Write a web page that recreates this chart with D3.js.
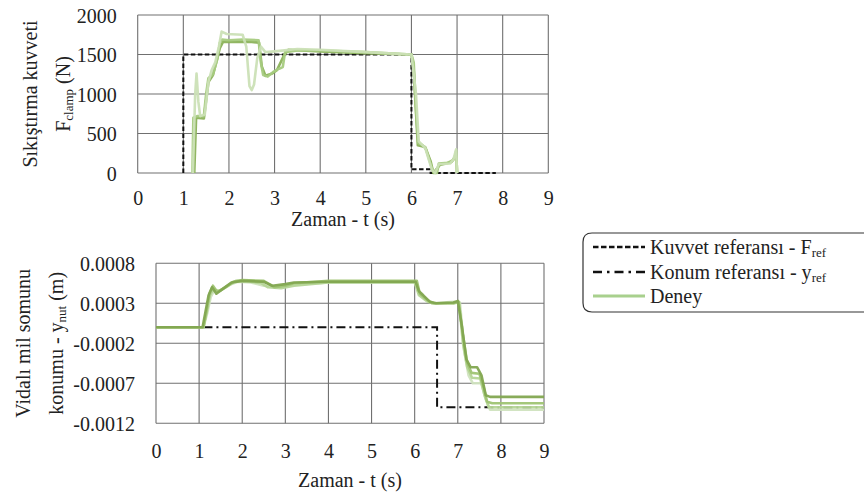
<!DOCTYPE html>
<html><head><meta charset="utf-8">
<script src="https://cdn.jsdelivr.net/npm/d3@7/dist/d3.min.js"></script>
<style>body{margin:0;background:#fff}svg{display:block}</style>
</head><body><svg id="c" width="864" height="498"></svg>
<script>
// ---------- data ----------
const timeTicks = [0,1,2,3,4,5,6,7,8,9];
const forceTicks = [0,500,1000,1500,2000];
const posTicks = [0.0008,0.0003,-0.0002,-0.0007,-0.0012];
const posTickLabels = ["0.0008","0.0003","-0.0002","-0.0007","-0.0012"];

const forceRef = [[1,0],[1,1500],[6,1500],[6,47],[6.42,47],[6.42,0],[7.85,0]];
const forceRunA = [[1.2,0],[1.22,700],[1.3,720],[1.45,720],[1.5,1000],[1.55,1200],[1.65,1250],[1.7,1350],[1.75,1450],[1.8,1650],[1.85,1690],[2.0,1680],[2.3,1690],[2.65,1680],[2.7,1400],[2.75,1240],[2.85,1220],[2.97,1280],[3.1,1320],[3.18,1340],[3.23,1530],[3.5,1550],[4.0,1550],[5.0,1530],[6.0,1500],[6.05,1400],[6.1,800],[6.15,380],[6.25,350],[6.32,300],[6.45,60],[6.5,0],[6.56,0],[6.6,120],[6.8,130],[6.9,160],[6.95,200],[6.98,280],[7.0,0]];
const forceRunB = [[1.21,0],[1.26,1000],[1.29,1260],[1.33,900],[1.37,720],[1.47,740],[1.55,1150],[1.62,1300],[1.7,1400],[1.78,1600],[1.84,1790],[1.95,1760],[2.3,1750],[2.38,1600],[2.45,1100],[2.5,1050],[2.55,1120],[2.62,1450],[2.7,1600],[2.8,1530],[3.0,1540],[3.5,1570],[4.0,1560],[5.0,1530],[6.0,1500],[6.1,1000],[6.16,400],[6.3,320],[6.45,40],[6.52,0],[6.6,110],[6.85,120],[6.92,170],[6.98,300],[7.0,0]];
const forceRunC = [[1.24,0],[1.28,700],[1.45,690],[1.55,1150],[1.65,1240],[1.8,1580],[1.87,1660],[2.5,1660],[2.66,1650],[2.72,1350],[2.8,1230],[2.95,1260],[3.05,1300],[3.2,1480],[3.3,1560],[4.0,1540],[5.0,1515],[6.0,1500],[6.05,1300],[6.14,350],[6.3,330],[6.42,150],[6.48,0],[6.62,100],[6.88,140],[6.96,200],[6.99,150],[7.0,0]];

const posRef = [[1.1,0],[6.52,0],[6.52,-0.001],[9,-0.001]];
const posRun1 = [[0,0],[1.08,0],[1.15,0.0002],[1.22,0.0004],[1.3,0.0005],[1.4,0.00042],[1.55,0.00048],[1.75,0.00056],[2.0,0.00058],[2.5,0.00057],[2.7,0.00052],[3.0,0.00054],[3.2,0.00056],[4,0.00057],[6.02,0.00057],[6.1,0.00045],[6.2,0.0004],[6.35,0.00032],[6.5,0.0003],[6.9,0.00031],[7.0,0.00033],[7.1,0.0],[7.2,-0.0004],[7.3,-0.0005],[7.45,-0.0005],[7.55,-0.0006],[7.65,-0.00085],[7.75,-0.00087],[9,-0.00087]];
const posRun2 = [[0,0],[1.1,0],[1.17,0.0002],[1.24,0.00042],[1.32,0.00052],[1.42,0.00044],[1.6,0.0005],[1.8,0.00057],[2.0,0.00059],[2.5,0.00058],[2.75,0.0005],[3.0,0.00052],[3.2,0.00055],[4,0.00058],[6.05,0.00058],[6.12,0.00042],[6.25,0.00036],[6.4,0.0003],[6.9,0.0003],[7.02,0.00032],[7.12,-0.0001],[7.22,-0.00045],[7.32,-0.00057],[7.5,-0.00058],[7.6,-0.00075],[7.68,-0.00093],[7.8,-0.00095],[9,-0.00095]];
const posRun3 = [[0,0],[1.1,0],[1.18,0.0002],[1.25,0.0004],[1.33,0.00048],[1.45,0.00045],[1.62,0.0005],[1.85,0.00058],[2.1,0.00058],[2.45,0.00055],[2.6,0.0005],[2.9,0.00049],[3.2,0.00052],[4,0.00056],[6.0,0.00056],[6.1,0.0004],[6.3,0.00032],[6.45,0.0003],[6.9,0.0003],[7.03,0.00031],[7.12,-0.0002],[7.22,-0.0005],[7.33,-0.00063],[7.52,-0.00064],[7.62,-0.00085],[7.72,-0.001],[7.85,-0.001],[9,-0.001]];
const posRun4 = [[0,0],[1.1,0],[1.19,0.00018],[1.27,0.00038],[1.35,0.00046],[1.5,0.00046],[1.7,0.00053],[1.9,0.00057],[2.2,0.00056],[2.5,0.00052],[2.8,0.00051],[3.1,0.00053],[4,0.00056],[6.0,0.00056],[6.12,0.00043],[6.28,0.00034],[6.45,0.0003],[6.9,0.00032],[7.05,0.00031],[7.15,-0.0003],[7.25,-0.0006],[7.35,-0.0007],[7.55,-0.0007],[7.65,-0.0009],[7.75,-0.00103],[9,-0.00103]];

const forceRuns = [forceRunC, forceRunA, forceRunB];
const forceRunColors = ["#8bb25a","#a6cb80","#cbe0b6"];
const posRuns = [posRun4, posRun3, posRun2, posRun1];
const posRunColors = ["#d0e3bf","#b5d596","#9fc473","#82a750"];

const legendLabels = [["Kuvvet referansı - F","ref"],["Konum referansı - y","ref"],["Deney",""]];

// ---------- drawing ----------
const FONT = '"Liberation Serif"';
const svg = d3.select("#c");
svg.append("rect").attr("width",864).attr("height",498).attr("fill","#fff");
const gridColor = "#707070";

function txt(sel, size){ return sel.style("font-family",FONT).attr("font-size",size||20).attr("fill","#222"); }

function panel(box, yDomain, yTicks, yLabels, runs, colors, ref, refDash, titleLines, titleY){
  const x = d3.scaleLinear().domain([0,9]).range([box.l, box.r]);
  const y = d3.scaleLinear().domain(yDomain).range([box.b, box.t]);
  const g = svg.append("g");
  const id = "clip"+Math.round(box.t);
  svg.append("clipPath").attr("id",id).append("rect")
    .attr("x",box.l).attr("y",box.t-3).attr("width",box.r-box.l).attr("height",box.b-box.t+6);
  g.selectAll(".vx").data(timeTicks).join("line")
    .attr("x1",d=>x(d)).attr("x2",d=>x(d)).attr("y1",box.t).attr("y2",box.b)
    .attr("stroke",gridColor).attr("stroke-width",1.1);
  g.selectAll(".hy").data(yTicks).join("line")
    .attr("y1",d=>y(d)).attr("y2",d=>y(d)).attr("x1",box.l).attr("x2",box.r)
    .attr("stroke",gridColor).attr("stroke-width",1.1);
  const xa = d3.axisBottom(x).tickValues(timeTicks).tickSize(0).tickPadding(0).tickFormat(d3.format("d"));
  const xg = svg.append("g").attr("transform",`translate(0,${box.b})`).call(xa);
  xg.attr("font-family",null).attr("font-size",null);
  xg.select(".domain").remove();
  txt(xg.selectAll("text")).attr("dy",null).attr("y",box.xly-box.b).attr("dominant-baseline","central");
  const ya = d3.axisLeft(y).tickValues(yTicks).tickSize(0).tickPadding(21).tickFormat((d,i)=>yLabels[i]);
  const yg = svg.append("g").attr("transform",`translate(${box.l},0)`).call(ya);
  yg.attr("font-family",null).attr("font-size",null);
  yg.select(".domain").remove();
  txt(yg.selectAll("text")).attr("dy",null).attr("dominant-baseline","central");
  const line = d3.line().x(d=>x(d[0])).y(d=>y(d[1]));
  const pg = svg.append("g").attr("clip-path",`url(#${id})`);
  pg.append("path").attr("d",line(ref)).attr("fill","none").attr("stroke","#111")
    .attr("stroke-width",2).attr("stroke-dasharray",refDash);
  runs.forEach((r,i)=>{
    pg.append("path").attr("d",line(r)).attr("fill","none").attr("stroke",colors[i])
      .attr("stroke-width",2.6).attr("stroke-linejoin","round").attr("opacity",0.95);
  });
  txt(svg.append("text")).attr("x",(box.l+box.r)/2).attr("y",titleY).attr("text-anchor","middle")
    .attr("dominant-baseline","central").text("Zaman - t (s)");
  titleLines.forEach(tl=>{
    const t = txt(svg.append("text")).attr("transform",`translate(${tl.x},${(box.t+box.b)/2}) rotate(-90)`)
      .attr("text-anchor","middle").attr("dominant-baseline","central");
    t.append("tspan").text(tl.a);
    if(tl.sub){ t.append("tspan").attr("font-size",13).attr("dy",5).text(tl.sub);
      t.append("tspan").attr("dy",-5).text(tl.b); }
  });
}

panel({l:137.7,r:548.3,t:15,b:173,xly:198}, [0,2000], forceTicks, forceTicks.map(String),
  forceRuns, forceRunColors, forceRef, "4.5,2.5",
  [{x:30,a:"Sıkıştırma kuvveti"},{x:63,a:"F",sub:"clamp",b:" (N)"}], 219);
panel({l:156,r:544,t:263.3,b:423.3,xly:451}, [-0.0012,0.0008], posTicks, posTickLabels,
  posRuns, posRunColors, posRef, "9,4,2,4",
  [{x:23,a:"Vidalı mil somunu"},{x:56,a:"konumu - y",sub:"nut",b:" (m)"}], 480);

const lg = svg.append("g");
lg.append("path").attr("d","M 876 233 L 592 233 Q 583 233 583 242 L 583 303 Q 583 312 592 312 L 876 312")
  .attr("fill","none").attr("stroke","#333").attr("stroke-width",1.2);
const rowsY = [247,272,296];
const dashes = ["5.5,2.5","9,5,2.5,5",null];
const lcol = ["#111","#111","#a8d08d"];
legendLabels.forEach((l,i)=>{
  lg.append("line").attr("x1",593).attr("x2",645).attr("y1",rowsY[i]).attr("y2",rowsY[i])
    .attr("stroke",lcol[i]).attr("stroke-width",i==2?2.8:2.6).attr("stroke-dasharray",dashes[i]);
  const t = txt(lg.append("text")).attr("x",650).attr("y",rowsY[i]).attr("dominant-baseline","central");
  t.append("tspan").text(l[0]);
  if(l[1]) t.append("tspan").attr("font-size",13).attr("dy",5).text(l[1]);
});
</script></body></html>
